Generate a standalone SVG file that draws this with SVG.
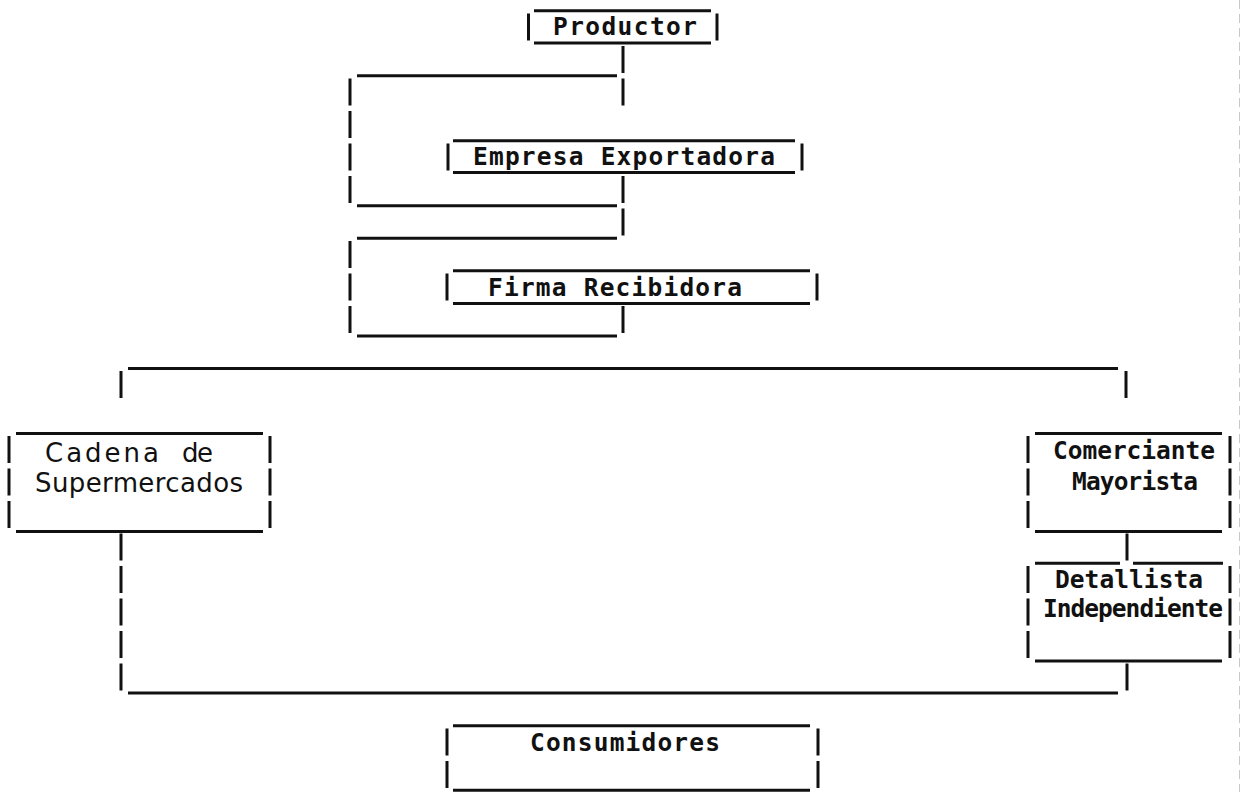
<svg xmlns="http://www.w3.org/2000/svg" width="1243" height="792" viewBox="0 0 1243 792">
  <style>
    .bg { fill: #ffffff; }
    .h { stroke: #111; stroke-width: 3; fill: none; }
    .v { stroke: #111; stroke-width: 3; fill: none; stroke-dasharray: 27 5.5; }
    .t { font-family: "DejaVu Sans Mono", "Liberation Mono", monospace; font-size: 24.5px; font-weight: bold; fill: #111; }
    .s { font-family: "DejaVu Sans", "Liberation Sans", sans-serif; font-size: 26px; fill: #111; }
    .edge { stroke: #c8c8c8; stroke-width: 1; stroke-dasharray: 9 5; fill: none; }
  </style>

  <rect class="bg" x="0" y="0" width="1243" height="792"/>
  <line class="edge" x1="1239.5" y1="0" x2="1239.5" y2="792"/>

  <!-- connectors -->
  <g id="connectors">
    <!-- Productor to Empresa Exportadora -->
    <line class="v" x1="623" y1="46" x2="623" y2="105.5"/>
    <line class="h" x1="357" y1="75.8" x2="617" y2="75.8"/>
    <line class="v" x1="350" y1="78.5" x2="350" y2="203"/>
    <line class="h" x1="357" y1="205.8" x2="617" y2="205.8"/>
    <!-- Empresa Exportadora to Firma Recibidora -->
    <line class="v" x1="623" y1="176" x2="623" y2="235.5"/>
    <line class="h" x1="357" y1="238.3" x2="617" y2="238.3"/>
    <line class="v" x1="350" y1="241" x2="350" y2="333"/>
    <line class="v" x1="623" y1="306" x2="623" y2="333"/>
    <line class="h" x1="357" y1="336" x2="617" y2="336"/>
    <!-- distribution split -->
    <line class="h" x1="128" y1="368.5" x2="1118" y2="368.5"/>
    <line class="v" x1="121" y1="371" x2="121" y2="398"/>
    <line class="v" x1="1126" y1="371" x2="1126" y2="398"/>
    <!-- Comerciante to Detallista -->
    <line class="v" x1="1127" y1="533.5" x2="1127" y2="560.5"/>
    <!-- merge towards Consumidores -->
    <line class="v" x1="121" y1="533.5" x2="121" y2="690.5"/>
    <line class="v" x1="1127" y1="663.5" x2="1127" y2="690.5"/>
    <line class="h" x1="128" y1="693" x2="1118" y2="693"/>
  </g>

  <g id="productor">
    <line class="h" x1="534" y1="10.8" x2="711" y2="10.8"/>
    <line class="h" x1="534" y1="43" x2="711" y2="43"/>
    <line class="v" x1="528.5" y1="13.5" x2="528.5" y2="40.5"/>
    <line class="v" x1="717" y1="13.5" x2="717" y2="40.5"/>
    <text class="t" x="553" y="35" textLength="144">Productor</text>
  </g>

  <g id="empresa-exportadora">
    <line class="h" x1="453" y1="140.8" x2="795" y2="140.8"/>
    <line class="h" x1="453" y1="172.5" x2="795" y2="172.5"/>
    <line class="v" x1="448" y1="143.5" x2="448" y2="170.5"/>
    <line class="v" x1="802" y1="143.5" x2="802" y2="170.5"/>
    <text class="t" x="473" y="165" textLength="302">Empresa Exportadora</text>
  </g>

  <g id="firma-recibidora">
    <line class="h" x1="453" y1="270.8" x2="810" y2="270.8"/>
    <line class="h" x1="453" y1="303.5" x2="810" y2="303.5"/>
    <line class="v" x1="447" y1="273.5" x2="447" y2="300.5"/>
    <line class="v" x1="817" y1="273.5" x2="817" y2="300.5"/>
    <text class="t" x="488" y="296" textLength="254">Firma Recibidora</text>
  </g>

  <g id="cadena-supermercados">
    <line class="h" x1="16" y1="433.5" x2="263" y2="433.5"/>
    <line class="h" x1="16" y1="531.5" x2="263" y2="531.5"/>
    <line class="v" x1="9" y1="436" x2="9" y2="528"/>
    <line class="v" x1="270" y1="436" x2="270" y2="528"/>
    <text class="s" x="45" y="462" textLength="114">Cadena</text>
    <text class="s" x="182" y="462" textLength="31">de</text>
    <text class="s" x="35" y="492" textLength="208">Supermercados</text>
  </g>

  <g id="comerciante-mayorista">
    <line class="h" x1="1035" y1="433.5" x2="1222" y2="433.5"/>
    <line class="h" x1="1035" y1="531.5" x2="1222" y2="531.5"/>
    <line class="v" x1="1028" y1="436" x2="1028" y2="528"/>
    <line class="v" x1="1230" y1="436" x2="1230" y2="528"/>
    <text class="t" x="1053" y="459" textLength="162">Comerciante</text>
    <text class="t" x="1072" y="490" textLength="126">Mayorista</text>
  </g>

  <g id="detallista-independiente">
    <line class="h" x1="1035" y1="563.3" x2="1120" y2="563.3"/>
    <line class="h" x1="1133" y1="563.3" x2="1223" y2="563.3"/>
    <line class="h" x1="1035" y1="661" x2="1222" y2="661"/>
    <line class="v" x1="1028" y1="566" x2="1028" y2="658"/>
    <line class="v" x1="1230" y1="566" x2="1230" y2="658"/>
    <text class="t" x="1055" y="588" textLength="148">Detallista</text>
    <text class="t" x="1043" y="617" textLength="180">Independiente</text>
  </g>

  <g id="consumidores">
    <line class="h" x1="453" y1="725.8" x2="810" y2="725.8"/>
    <line class="h" x1="453" y1="790.3" x2="810" y2="790.3"/>
    <line class="v" x1="447" y1="728.5" x2="447" y2="788"/>
    <line class="v" x1="818" y1="728.5" x2="818" y2="788"/>
    <text class="t" x="530" y="751" textLength="190">Consumidores</text>
  </g>
</svg>
